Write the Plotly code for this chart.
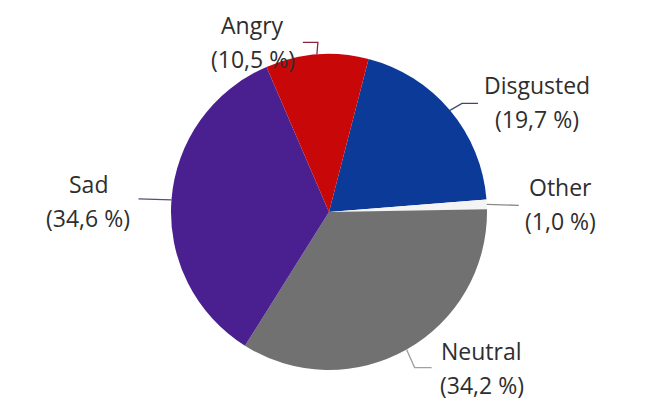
import math
import plotly.graph_objects as go

# Emotion shares (percent), listed clockwise starting from the slice after the top
categories = ["Disgusted", "Other", "Neutral", "Sad", "Angry"]
shares = [19.7, 1.0, 34.2, 34.6, 10.5]
colors = ["#0b3a98", "#f4f4f4", "#717171", "#4a2090", "#c80808"]
leader_colors = ["#3c4a6e", "#8a8a8a", "#a0a0a0", "#5c4a80", "#8c2440"]

W, H = 654, 403
CX, CY, R = 329, 212, 158
ROTATION = 14.5

# label placement relative to the rim point at each slice's middle (pixels)
label_offset = {
    "Disgusted": (87, -8),
    "Other": (74, 0),
    "Neutral": (75, 18),
    "Sad": (-83, 1),
    "Angry": (-64, -12),
}
# leader-line bend points relative to the same rim point (pixels)
leader_path = {
    "Disgusted": [(12, -7), (28, -7)],
    "Other": [(32, 1)],
    "Neutral": [(8, 18), (25, 18)],
    "Sad": [(-33, -1)],
    "Angry": [(1, -12), (-14, -12)],
}


def to_paper(px, py):
    return px / W, 1 - py / H


fig = go.Figure(
    go.Pie(
        labels=categories,
        values=shares,
        sort=False,
        direction="clockwise",
        rotation=ROTATION,
        marker=dict(colors=colors, line=dict(color="#ffffff", width=0)),
        textinfo="none",
        hoverinfo="label+percent",
        showlegend=False,
        domain=dict(
            x=[(CX - R) / W, (CX + R) / W],
            y=[1 - (CY + R) / H, 1 - (CY - R) / H],
        ),
    )
)

total = sum(shares)
angle = ROTATION
shapes = []
annotations = []
font = dict(family="Open Sans, Noto Sans, sans-serif", size=23, color="#2e2e2e")
for name, v, lc in zip(categories, shares, leader_colors):
    span = 360 * v / total
    mid = math.radians(angle + span / 2)
    angle += span
    rx = CX + R * math.sin(mid)
    ry = CY - R * math.cos(mid)

    pts = [(rx, ry)] + [(rx + dx, ry + dy) for dx, dy in leader_path[name]]
    path = ""
    for i, (px, py) in enumerate(pts):
        xp, yp = to_paper(px, py)
        path += ("M" if i == 0 else " L") + f"{xp:.5f},{yp:.5f}"
    shapes.append(dict(type="path", xref="paper", yref="paper", path=path,
                       line=dict(color=lc, width=1.3)))

    ox, oy = label_offset[name]
    lx, ly = rx + ox, ry + oy
    pct = f"({v:.1f} %)".replace(".", ",")
    for text, dy in ((name, -17), (pct, 17)):
        xp, yp = to_paper(lx, ly + dy)
        annotations.append(dict(x=xp, y=yp, xref="paper", yref="paper",
                                text=text, showarrow=False, font=font,
                                xanchor="center", yanchor="middle"))

fig.update_layout(
    width=W,
    height=H,
    margin=dict(l=0, r=0, t=0, b=0),
    paper_bgcolor="#ffffff",
    plot_bgcolor="#ffffff",
    shapes=shapes,
    annotations=annotations,
)

fig.write_html("out.html")
